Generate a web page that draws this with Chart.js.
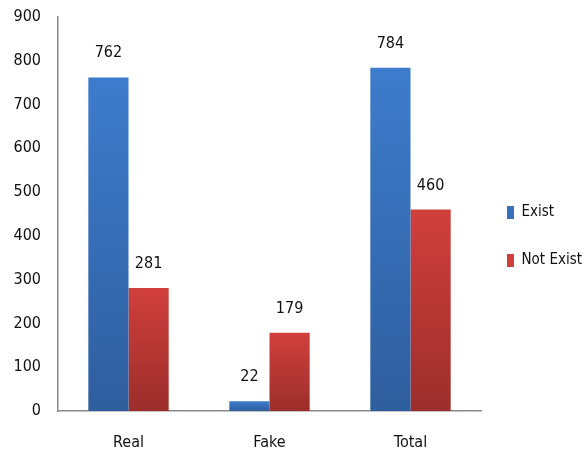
<!DOCTYPE html>
<html>
<head>
<meta charset="utf-8">
<script src="https://cdn.jsdelivr.net/npm/chart.js@4.4.0/dist/chart.umd.min.js"></script>
<style>
  html, body { margin: 0; padding: 0; background: #fff; }
  #wrap { width: 586px; height: 462px; }
</style>
</head>
<body>
<div id="wrap"><canvas id="barChart" width="586" height="462"></canvas></div>
<script>
var categories = ['Real', 'Fake', 'Total'];
var existValues = [762, 22, 784];
var notExistValues = [281, 179, 460];
var yTicks = [0, 100, 200, 300, 400, 500, 600, 700, 800, 900];

var FONT = '"DejaVu Sans Condensed", "DejaVu Sans", sans-serif';

// vertical gradient inside each bar, light on top, darker at the base
function barGradient(ctx, top, bottom) {
  var chart = ctx.chart;
  if (!chart.chartArea || !ctx.parsed) return top;
  var yScale = chart.scales.y;
  var yTop = yScale.getPixelForValue(ctx.parsed.y);
  var yBase = yScale.getPixelForValue(0);
  if (yBase - yTop < 1) return top;
  var g = chart.ctx.createLinearGradient(0, yTop, 0, yBase);
  g.addColorStop(0, top);
  g.addColorStop(1, bottom);
  return g;
}

// draws the value above each bar
var valueLabels = {
  id: 'valueLabels',
  afterDatasetsDraw: function(chart) {
    var c = chart.ctx;
    c.save();
    c.font = '16px ' + FONT;
    c.fillStyle = '#111';
    c.textAlign = 'center';
    c.textBaseline = 'alphabetic';
    chart.data.datasets.forEach(function(ds, i) {
      chart.getDatasetMeta(i).data.forEach(function(bar, j) {
        c.fillText(ds.data[j], bar.x, bar.y - 20);
      });
    });
    c.restore();
  }
};

// start the legend a little further left without shrinking the plot
var legendShift = {
  id: 'legendShift',
  afterLayout: function(chart) {
    if (chart.legend) {
      chart.legend.left -= 7;
      chart.legend.width += 7;
    }
  }
};

var barChart = new Chart(document.getElementById('barChart'), {
  type: 'bar',
  data: {
    labels: categories,
    datasets: [{
      label: 'Exist',
      data: existValues,
      backgroundColor: function(ctx) { return barGradient(ctx, '#3d7ccc', '#2f5e9e'); }
    }, {
      label: 'Not Exist',
      data: notExistValues,
      backgroundColor: function(ctx) { return barGradient(ctx, '#d03f3c', '#9c2e2b'); }
    }]
  },
  options: {
    responsive: false,
    animation: false,
    layout: { padding: { top: 17, right: 0, bottom: 6, left: 0 } },
    datasets: {
      bar: { barPercentage: 1, categoryPercentage: 0.57 }
    },
    scales: {
      x: {
        grid: { display: false, drawTicks: false },
        border: { display: true, color: '#8a8a8a', width: 1.5 },
        ticks: { color: '#111', font: { family: FONT, size: 16 }, padding: 22 },
        afterFit: function(scale) { scale.height = 45; }
      },
      y: {
        min: 0,
        max: 900,
        afterBuildTicks: function(scale) {
          scale.ticks = yTicks.map(function(v) { return { value: v }; });
        },
        grid: { display: false, drawTicks: false },
        border: { display: true, color: '#8a8a8a', width: 1.5 },
        ticks: { color: '#111', font: { family: FONT, size: 16 }, padding: 17 },
        afterFit: function(scale) {
          scale.width = 58;
          scale.paddingTop = 0;
          scale.paddingBottom = 0;
        }
      }
    },
    plugins: {
      legend: {
        position: 'right',
        maxWidth: 105,
        labels: {
          color: '#111',
          font: { family: FONT, size: 15 },
          boxWidth: 7,
          boxHeight: 13,
          padding: 33
        }
      },
      tooltip: { enabled: false }
    }
  },
  plugins: [valueLabels, legendShift]
});
</script>
</body>
</html>
